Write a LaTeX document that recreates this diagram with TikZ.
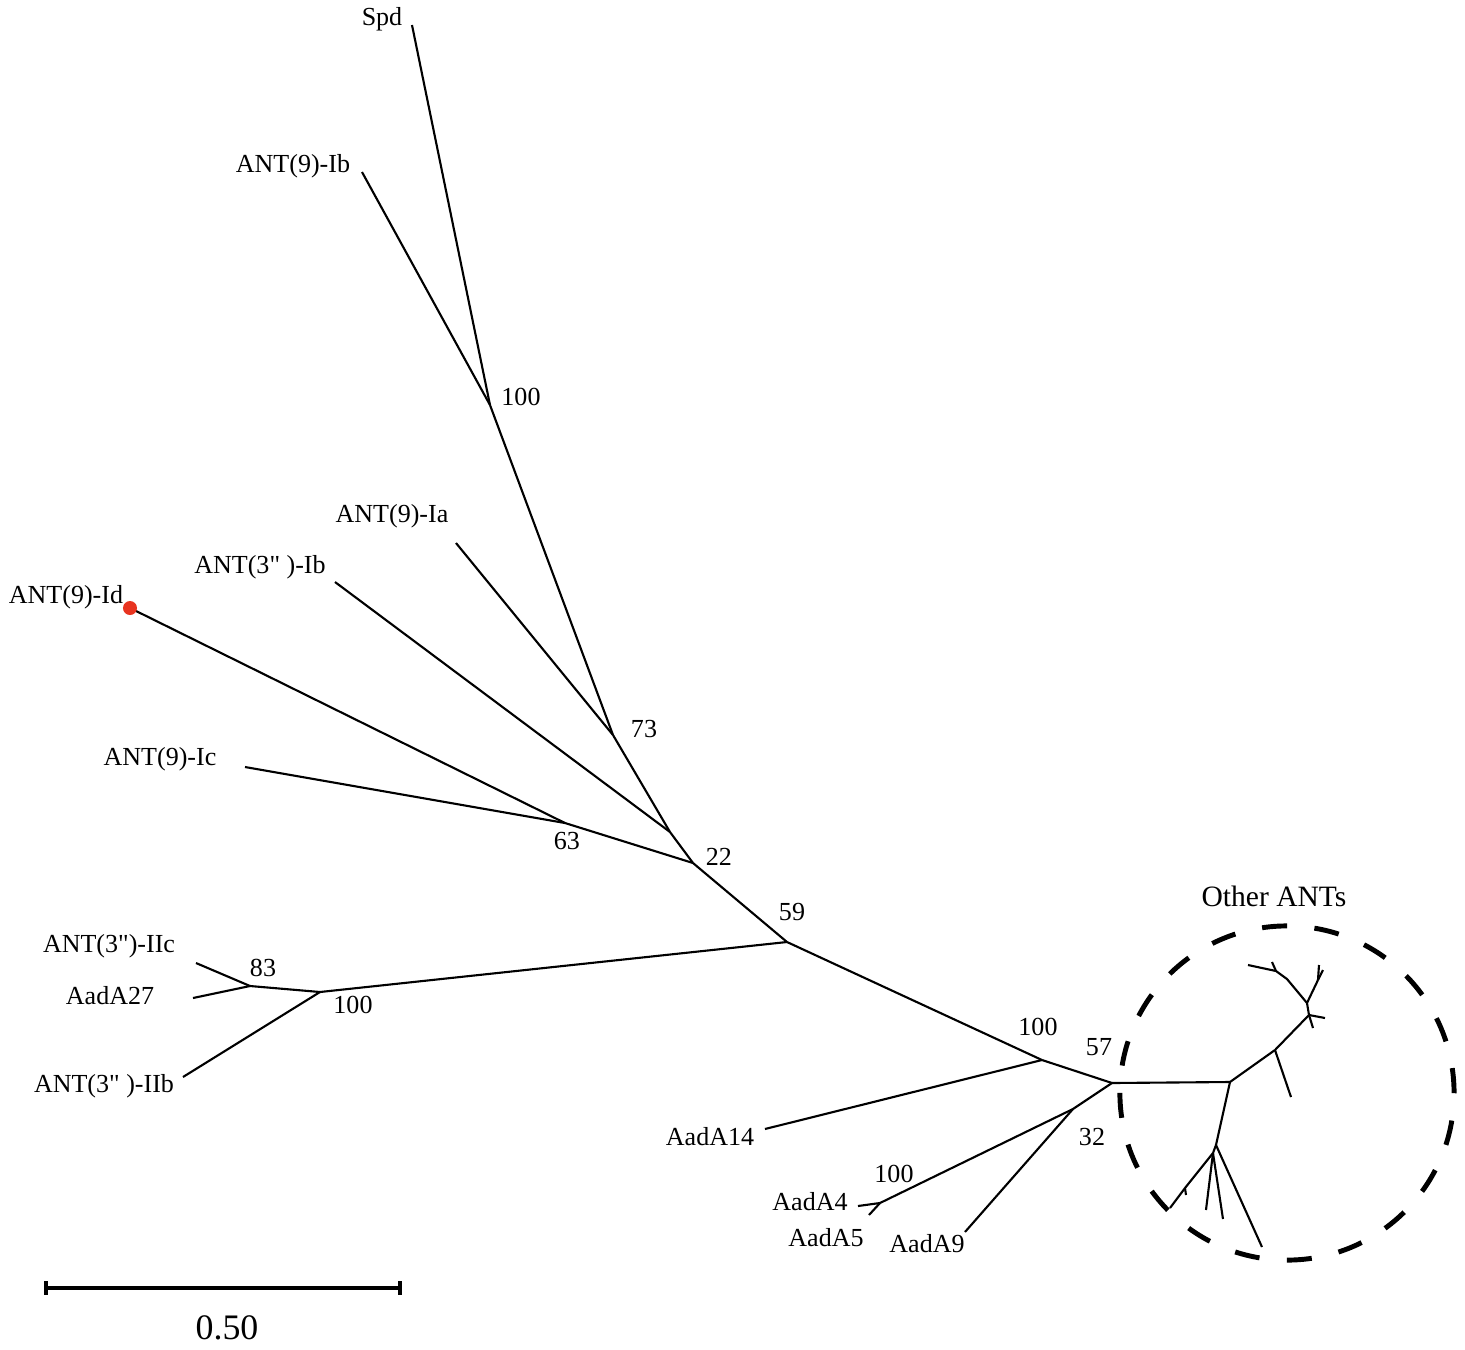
\documentclass[tikz,border=0pt]{standalone}
\usepackage{fontspec}
\setmainfont{Liberation Serif}[Ligatures=TeXOff]
\usepackage{tikz}
\usetikzlibrary{arrows}
\definecolor{dotred}{RGB}{232,52,32}

\begin{document}
\begin{tikzpicture}[x=0.01cm,y=-0.01cm,line width=0.6pt,
  every node/.style={inner sep=0pt,font=\fontsize{7.4}{9}\selectfont}]
\useasboundingbox (0,0) rectangle (1465,1350);
% leaves and inner nodes
\coordinate (spd) at (412,25);
\coordinate (ib9) at (362,172);
\coordinate (b100a) at (490,405);
\coordinate (ia9) at (456,543);
\coordinate (b73) at (613,735);
\coordinate (ib3) at (335,582);
\coordinate (j1) at (670,832);
\coordinate (id9) at (130,608);
\coordinate (ic9) at (245,767);
\coordinate (b63) at (565,823);
\coordinate (b22) at (693,863);
\coordinate (b59) at (787,942);
\coordinate (b100b) at (320,992);
\coordinate (b83) at (250,986);
\coordinate (iic3) at (196,963);
\coordinate (a27) at (193,998);
\coordinate (iib3) at (183,1077);
\coordinate (b100c) at (1042,1060);
\coordinate (a14) at (765,1129);
\coordinate (b57) at (1112,1083);
\coordinate (b32) at (1073,1109);
\coordinate (b100d) at (880,1203);
\coordinate (a4) at (858,1206);
\coordinate (a5) at (869,1215);
\coordinate (a9) at (965,1232);
% other ANTs
\coordinate (o1) at (1230,1082);
\coordinate (o2) at (1275,1050);
\coordinate (o3) at (1291,1097);
\coordinate (o4) at (1309,1015);
\coordinate (o5) at (1325,1018);
\coordinate (o6) at (1313,1028);
\coordinate (o7) at (1307,1003);
\coordinate (o8) at (1318,980);
\coordinate (o9) at (1319,965);
\coordinate (o10) at (1323,970);
\coordinate (o11) at (1287,979);
\coordinate (o12) at (1276,971);
\coordinate (o13) at (1272,962);
\coordinate (o14) at (1248,965);
\coordinate (o15) at (1216,1145);
\coordinate (o16) at (1262,1247);
\coordinate (o17) at (1213,1153);
\coordinate (o18) at (1206,1210);
\coordinate (o19) at (1223,1219);
\coordinate (o20) at (1185,1188);
\coordinate (o21) at (1186,1195);
\coordinate (o22) at (1170,1208);

% branches
\path [] (spd) edge (b100a);
\path [] (ib9) edge (b100a);
\path [] (b100a) edge (b73);
\path [] (ia9) edge (b73);
\path [] (b73) edge (j1);
\path [] (ib3) edge (j1);
\path [] (j1) edge (b22);
\path [] (id9) edge (b63);
\path [] (ic9) edge (b63);
\path [] (b63) edge (b22);
\path [] (b22) edge (b59);
\path [] (b59) edge (b100b);
\path [] (b100b) edge (b83);
\path [] (b83) edge (iic3);
\path [] (b83) edge (a27);
\path [] (b100b) edge (iib3);
\path [] (b59) edge (b100c);
\path [] (b100c) edge (a14);
\path [] (b100c) edge (b57);
\path [] (b57) edge (b32);
\path [] (b32) edge (b100d);
\path [] (b100d) edge (a4);
\path [] (b100d) edge (a5);
\path [] (b32) edge (a9);
\path [] (b57) edge (o1);
\path [] (o1) edge (o2);
\path [] (o2) edge (o3);
\path [] (o2) edge (o4);
\path [] (o4) edge (o5);
\path [] (o4) edge (o6);
\path [] (o4) edge (o7);
\path [] (o7) edge (o8);
\path [] (o8) edge (o9);
\path [] (o8) edge (o10);
\draw (o7) -- (o11) -- (o12) -- (o14);
\path [] (o12) edge (o13);
\path [] (o1) edge (o15);
\path [] (o15) edge (o16);
\path [] (o15) edge (o17);
\path [] (o17) edge (o18);
\path [] (o17) edge (o19);
\draw (o17) -- (o20) -- (o22);
\path [] (o20) edge (o21);

\fill[dotred] (id9) circle (0.07cm);

% leaf names
\node (lspd) at (382,19) {Spd};
\node (lib9) at (293,166) {ANT(9)-Ib};
\node (lia9) at (392,516) {ANT(9)-Ia};
\node (lib3) at (260,567) {ANT(3" )-Ib};
\node (lid9) at (66,597) {ANT(9)-Id};
\node (lic9) at (160,759) {ANT(9)-Ic};
\node (liic3) at (109,946) {ANT(3")-IIc};
\node (la27) at (110,996) {AadA27};
\node (liib3) at (104,1086) {ANT(3" )-IIb};
\node (la14) at (710,1137) {AadA14};
\node (la4) at (810,1202) {AadA4};
\node (la5) at (826,1238) {AadA5};
\node (la9) at (927,1244) {AadA9};

% bootstrap values
\node (v100a) at (521,397) {100};
\node (v73) at (644,729) {73};
\node (v63) at (567,841) {63};
\node (v22) at (719,857) {22};
\node (v59) at (792,912) {59};
\node (v83) at (263,968) {83};
\node (v100b) at (353,1005) {100};
\node (v100c) at (1038,1027) {100};
\node (v57) at (1099,1047) {57};
\node (v32) at (1092,1137) {32};
\node (v100d) at (894,1174) {100};

% other ANTs group
\node (grp) at (1287,1093) {};
\draw[line width=1.4pt,dash pattern=on 0.25cm off 0.2746cm] (grp) circle (1.67cm);
\node[font=\fontsize{8.4}{10}\selectfont] (lgrp) at (1274,896) {Other ANTs};

% scale bar
\coordinate (s1) at (46,1288);
\coordinate (s2) at (400,1288);
\draw[line width=1.1pt] (s1) -- (s2);
\draw[line width=1.3pt] ([yshift=0.07cm]s1) -- ([yshift=-0.07cm]s1);
\draw[line width=1.3pt] ([yshift=0.07cm]s2) -- ([yshift=-0.07cm]s2);
\node[font=\fontsize{10.2}{12}\selectfont] (lsc) at (227,1328) {0.50};
\end{tikzpicture}
\end{document}
